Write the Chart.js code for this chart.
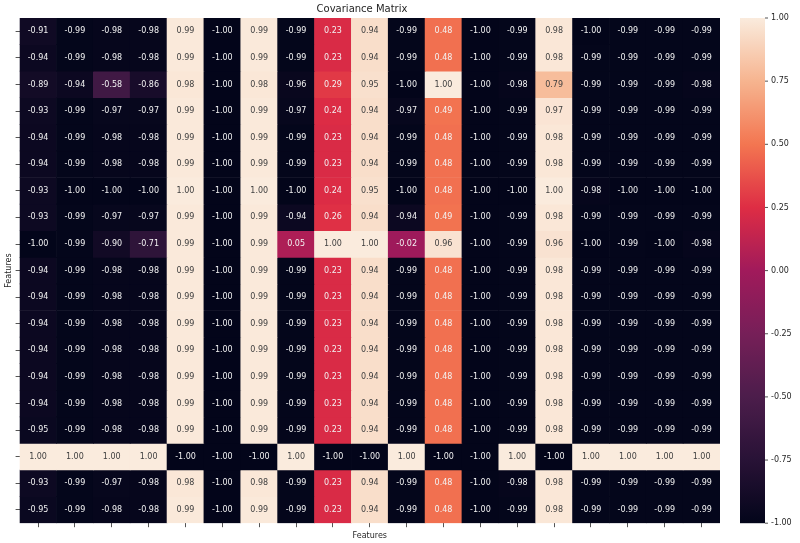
<!DOCTYPE html>
<html><head><meta charset="utf-8">
<script src="https://cdn.jsdelivr.net/npm/chart.js@4/dist/chart.umd.min.js"></script>
<style>html,body{margin:0;padding:0;background:#fff}#w{width:800px;height:543px}</style>
</head><body><div id="w"><canvas id="c"></canvas></div>
<script>
const features = Array.from({length:19},(_,i)=>'F'+(i+1));
const row01=[-0.91,-0.99,-0.98,-0.98,0.99,-1.00,0.99,-0.99,0.23,0.94,-0.99,0.48,-1.00,-0.99,0.98,-1.00,-0.99,-0.99,-0.99];
const row02=[-0.94,-0.99,-0.98,-0.98,0.99,-1.00,0.99,-0.99,0.23,0.94,-0.99,0.48,-1.00,-0.99,0.98,-0.99,-0.99,-0.99,-0.99];
const row03=[-0.89,-0.94,-0.58,-0.86,0.98,-1.00,0.98,-0.96,0.29,0.95,-1.00,1.00,-1.00,-0.98,0.79,-0.99,-0.99,-0.99,-0.98];
const row04=[-0.93,-0.99,-0.97,-0.97,0.99,-1.00,0.99,-0.97,0.24,0.94,-0.97,0.49,-1.00,-0.99,0.97,-0.99,-0.99,-0.99,-0.99];
const row05=[-0.94,-0.99,-0.98,-0.98,0.99,-1.00,0.99,-0.99,0.23,0.94,-0.99,0.48,-1.00,-0.99,0.98,-0.99,-0.99,-0.99,-0.99];
const row06=[-0.94,-0.99,-0.98,-0.98,0.99,-1.00,0.99,-0.99,0.23,0.94,-0.99,0.48,-1.00,-0.99,0.98,-0.99,-0.99,-0.99,-0.99];
const row07=[-0.93,-1.00,-1.00,-1.00,1.00,-1.00,1.00,-1.00,0.24,0.95,-1.00,0.48,-1.00,-1.00,1.00,-0.98,-1.00,-1.00,-1.00];
const row08=[-0.93,-0.99,-0.97,-0.97,0.99,-1.00,0.99,-0.94,0.26,0.94,-0.94,0.49,-1.00,-0.99,0.98,-0.99,-0.99,-0.99,-0.99];
const row09=[-1.00,-0.99,-0.90,-0.71,0.99,-1.00,0.99,0.05,1.00,1.00,-0.02,0.96,-1.00,-0.99,0.96,-1.00,-0.99,-1.00,-0.98];
const row10=[-0.94,-0.99,-0.98,-0.98,0.99,-1.00,0.99,-0.99,0.23,0.94,-0.99,0.48,-1.00,-0.99,0.98,-0.99,-0.99,-0.99,-0.99];
const row11=[-0.94,-0.99,-0.98,-0.98,0.99,-1.00,0.99,-0.99,0.23,0.94,-0.99,0.48,-1.00,-0.99,0.98,-0.99,-0.99,-0.99,-0.99];
const row12=[-0.94,-0.99,-0.98,-0.98,0.99,-1.00,0.99,-0.99,0.23,0.94,-0.99,0.48,-1.00,-0.99,0.98,-0.99,-0.99,-0.99,-0.99];
const row13=[-0.94,-0.99,-0.98,-0.98,0.99,-1.00,0.99,-0.99,0.23,0.94,-0.99,0.48,-1.00,-0.99,0.98,-0.99,-0.99,-0.99,-0.99];
const row14=[-0.94,-0.99,-0.98,-0.98,0.99,-1.00,0.99,-0.99,0.23,0.94,-0.99,0.48,-1.00,-0.99,0.98,-0.99,-0.99,-0.99,-0.99];
const row15=[-0.94,-0.99,-0.98,-0.98,0.99,-1.00,0.99,-0.99,0.23,0.94,-0.99,0.48,-1.00,-0.99,0.98,-0.99,-0.99,-0.99,-0.99];
const row16=[-0.95,-0.99,-0.98,-0.98,0.99,-1.00,0.99,-0.99,0.23,0.94,-0.99,0.48,-1.00,-0.99,0.98,-0.99,-0.99,-0.99,-0.99];
const row17=[1.00,1.00,1.00,1.00,-1.00,-1.00,-1.00,1.00,-1.00,-1.00,1.00,-1.00,-1.00,1.00,-1.00,1.00,1.00,1.00,1.00];
const row18=[-0.93,-0.99,-0.97,-0.98,0.98,-1.00,0.98,-0.99,0.23,0.94,-0.99,0.48,-1.00,-0.98,0.98,-0.99,-0.99,-0.99,-0.99];
const row19=[-0.95,-0.99,-0.98,-0.98,0.99,-1.00,0.99,-0.99,0.23,0.94,-0.99,0.48,-1.00,-0.99,0.98,-0.99,-0.99,-0.99,-0.99];
const rows=[row01,row02,row03,row04,row05,row06,row07,row08,row09,row10,row11,row12,row13,row14,row15,row16,row17,row18,row19];
const cbTicks=[1.00,0.75,0.50,0.25,0.00,-0.25,-0.50,-0.75,-1.00];

const stops=[[3,5,26],[40,18,54],[76,29,75],[118,31,88],[161,26,91],[222,45,68],[243,118,81],[246,180,143],[250,235,221]];
function cmap(v){let t=(v+1)/2;t=Math.max(0,Math.min(1,t));const p=t*8,i=Math.min(7,Math.floor(p)),f=p-i;
const a=stops[i],b=stops[i+1];return [0,1,2].map(k=>Math.round(a[k]+(b[k]-a[k])*f));}
function rgb(c){return `rgb(${c[0]},${c[1]},${c[2]})`;}
function lum(c){const l=c.map(x=>{x/=255;return x<=0.03928?x/12.92:Math.pow((x+0.055)/1.055,2.4)});return 0.2126*l[0]+0.7152*l[1]+0.0722*l[2];}

const datasets=rows.map((r,i)=>({label:'row'+(i+1),data:r.map(()=>1),vals:r,
 backgroundColor:r.map(v=>rgb(cmap(v))),barPercentage:1,categoryPercentage:1,borderWidth:0}));

const labelsPlugin={id:'cells',afterDatasetsDraw(ch){const ctx=ch.ctx;ctx.save();ctx.font='8px "DejaVu Sans"';ctx.textAlign='center';ctx.textBaseline='middle';
 ch.data.datasets.forEach((ds,di)=>{ch.getDatasetMeta(di).data.forEach((el,j)=>{const v=ds.vals[j];const c=cmap(v);
 ctx.fillStyle=lum(c)>0.408?'#404040':'#f2f2f2';const y=(el.y+el.base)/2;ctx.fillText(v.toFixed(2),el.x,y);});});
 const a=ch.chartArea,x0=a.right+20,w=25;const g=ctx.createLinearGradient(0,a.top,0,a.bottom);
 for(let k=0;k<=40;k++){g.addColorStop(k/40,rgb(cmap(1-2*k/40)));}
 ctx.fillStyle=g;ctx.fillRect(x0,a.top,w,a.bottom-a.top);
 ctx.font='8px "DejaVu Sans"';ctx.textAlign='left';ctx.fillStyle='#262626';ctx.strokeStyle='#262626';ctx.lineWidth=0.8;
 cbTicks.forEach(t=>{const y=a.top+(1-t)/2*(a.bottom-a.top);ctx.beginPath();ctx.moveTo(x0+w,y);ctx.lineTo(x0+w+3,y);ctx.stroke();ctx.fillText(t.toFixed(2),x0+w+6,y);});
 ctx.restore();}};

new Chart(document.getElementById('c'),{type:'bar',data:{labels:features,datasets},
 options:{responsive:true,maintainAspectRatio:false,animation:false,
 layout:{padding:{left:4,right:80,top:0,bottom:0}},
 plugins:{legend:{display:false},tooltip:{enabled:false},
  title:{display:true,text:'Covariance Matrix',color:'#262626',font:{family:'DejaVu Sans',size:10,weight:'normal'},padding:{top:3,bottom:3}}},
 scales:{x:{stacked:true,offset:true,border:{display:false},grid:{color:'transparent',tickColor:'#555',tickLength:4,offset:false},
   ticks:{callback:()=>'',padding:0,font:{size:1}},title:{display:true,text:'Features',color:'#262626',font:{family:'DejaVu Sans',size:8},padding:{top:3,bottom:2}}},
  y:{stacked:true,reverse:true,min:0,max:19,border:{display:false},afterBuildTicks(ax){ax.ticks=rows.map((_,i)=>({value:i+0.5}));},
   grid:{color:'transparent',tickColor:'#555',tickLength:4},ticks:{callback:()=>'',padding:0,font:{size:1}},
   title:{display:true,text:'Features',color:'#262626',font:{family:'DejaVu Sans',size:8},padding:{top:0,bottom:2}}}}},
 plugins:[labelsPlugin]});
</script></body></html>
